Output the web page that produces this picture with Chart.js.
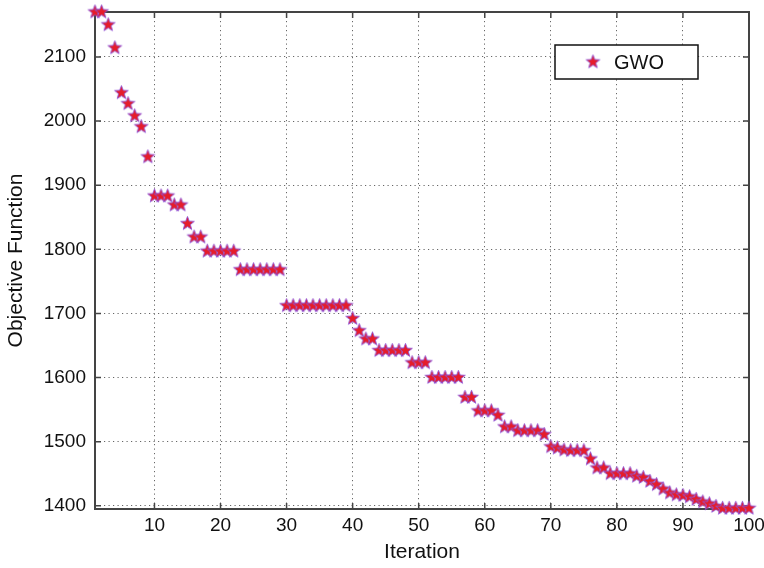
<!DOCTYPE html>
<html>
<head>
<meta charset="utf-8">
<script src="https://cdn.jsdelivr.net/npm/chart.js@4.4.1/dist/chart.umd.min.js"></script>
<style>
  html,body{margin:0;padding:0;background:#fff;}
  #wrap{width:764px;height:568px;}
</style>
</head>
<body>
<div id="wrap"><canvas id="c"></canvas></div>
<script>
/* GWO convergence curve */
const objective = [
  2170,2170,2150,2114,2044,2027,2008,1991,1944,1883,
  1883,1883,1869,1869,1840,1819,1819,1797,1797,1797,
  1797,1797,1768,1768,1768,1768,1768,1768,1768,1712,
  1712,1712,1712,1712,1712,1712,1712,1712,1712,1692,
  1673,1660,1660,1642,1642,1642,1642,1642,1623,1623,
  1623,1600,1600,1600,1600,1600,1569,1569,1548,1548,
  1548,1541,1523,1523,1517,1517,1517,1517,1511,1492,
  1490,1487,1486,1486,1486,1473,1459,1459,1450,1450,
  1450,1450,1446,1444,1438,1433,1426,1420,1417,1416,
  1414,1410,1406,1403,1399,1396,1396,1396,1396,1396
];
// first entry is iteration 1
const iterations = objective.map((_, i) => i + 1);
const xTicks = [10,20,30,40,50,60,70,80,90,100];
const yTicks = [1400,1500,1600,1700,1800,1900,2000,2100];
const seriesName = "GWO";

const FONT = "'Liberation Sans', Arial, Helvetica, sans-serif";
const AXIS_COLOR = "#444";

/* filled pentagram marker, red face + purple edge */
function starMarker(r){
  const s = Math.ceil(r*2+4), cv = document.createElement("canvas");
  cv.width = s; cv.height = s;
  const g = cv.getContext("2d"), c = s/2, ri = r*0.42;
  g.beginPath();
  for(let k=0;k<10;k++){
    const a = -Math.PI/2 + k*Math.PI/5, rr = k%2 ? ri : r;
    const px = c + rr*Math.cos(a), py = c + rr*Math.sin(a);
    k ? g.lineTo(px,py) : g.moveTo(px,py);
  }
  g.closePath();
  g.fillStyle = "#e51d2a"; g.fill();
  g.lineWidth = 0.9; g.strokeStyle = "#8f52d8"; g.stroke();
  return cv;
}
const STAR = starMarker(7.2);

/* MATLAB-ish box with inward ticks + boxed legend */
const frame = {
  id:"frame",
  beforeDatasetsDraw(chart){
    const {ctx, chartArea:a, scales:{x,y}} = chart, tl = 6;
    ctx.save();
    ctx.strokeStyle = AXIS_COLOR; ctx.lineWidth = 2;
    ctx.strokeRect(a.left, a.top, a.right-a.left, a.bottom-a.top);
    ctx.lineWidth = 1.5;
    ctx.beginPath();
    xTicks.forEach(v=>{ const px = x.getPixelForValue(v);
      ctx.moveTo(px,a.bottom); ctx.lineTo(px,a.bottom-tl);
      ctx.moveTo(px,a.top); ctx.lineTo(px,a.top+tl); });
    yTicks.forEach(v=>{ const py = y.getPixelForValue(v);
      ctx.moveTo(a.left,py); ctx.lineTo(a.left+tl,py);
      ctx.moveTo(a.right,py); ctx.lineTo(a.right-tl,py); });
    ctx.stroke();
    ctx.restore();
  },
  afterDraw(chart){
    const {ctx, chartArea:a} = chart;
    const w = 143, h = 34, lx = a.right - 51 - w, ly = a.top + 33;
    ctx.save();
    ctx.fillStyle = "#fff"; ctx.fillRect(lx, ly, w, h);
    ctx.strokeStyle = "#111"; ctx.lineWidth = 1.5; ctx.strokeRect(lx, ly, w, h);
    ctx.drawImage(STAR, lx + 38 - STAR.width/2, ly + h/2 - STAR.height/2);
    ctx.fillStyle = "#111"; ctx.font = "20px " + FONT;
    ctx.textBaseline = "middle"; ctx.textAlign = "left";
    ctx.fillText(chart.data.datasets[0].label, lx + 59, ly + h/2 + 1);
    ctx.restore();
  }
};

new Chart(document.getElementById("c"), {
  type:"scatter",
  data:{ datasets:[{
    label: seriesName,
    data: objective.map((v,i)=>({x:iterations[i], y:v})),
    pointStyle: STAR, pointRadius: 7, pointHoverRadius: 7,
    showLine:false, clip:false
  }]},
  options:{
    responsive:true, maintainAspectRatio:false, animation:false, events:[],
    layout:{ padding:{ top:12, right:15, left:0, bottom:0 } },
    plugins:{ legend:{display:false}, tooltip:{enabled:false} },
    scales:{
      x:{ type:"linear", min:1, max:100,
        afterBuildTicks:s=>{ s.ticks = xTicks.map(v=>({value:v})); },
        afterFit:s=>{ s.height = 59; s.paddingLeft = 0; s.paddingRight = 0; },
        grid:{ color:"#666", lineWidth:1, drawTicks:false },
        border:{ display:false, dash:[1.2,3.3] },
        ticks:{ color:"#111", padding:5, maxRotation:0, callback:v=>String(v), font:{family:FONT, size:19} },
        title:{ display:true, text:"Iteration", color:"#111", padding:{top:0,bottom:3}, font:{family:FONT, size:21} }
      },
      y:{ type:"linear", min:1395, max:2170,
        afterBuildTicks:s=>{ s.ticks = yTicks.map(v=>({value:v})); },
        afterFit:s=>{ s.width = 95; s.paddingTop = 0; s.paddingBottom = 0; },
        grid:{ color:"#666", lineWidth:1, drawTicks:false },
        border:{ display:false, dash:[1.2,3.3] },
        ticks:{ color:"#111", padding:9, callback:v=>String(v), font:{family:FONT, size:19} },
        title:{ display:true, text:"Objective Function", color:"#111", padding:{top:4,bottom:0}, font:{family:FONT, size:21} }
      }
    }
  },
  plugins:[frame]
});
</script>
</body>
</html>
